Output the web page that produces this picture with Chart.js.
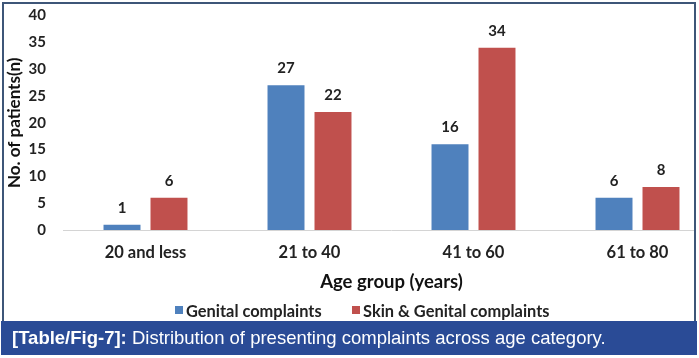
<!DOCTYPE html>
<html><head><meta charset="utf-8">
<script src="https://cdn.jsdelivr.net/npm/chart.js@4.4.0/dist/chart.umd.min.js"></script>
<style>
html,body{margin:0;padding:0;background:#fff;}
body{width:699px;height:358px;position:relative;overflow:hidden;font-family:Lato,sans-serif;}
#clip{position:absolute;left:0;top:0;width:694px;height:321px;overflow:hidden;}
#wrap{position:absolute;left:0;top:0;width:728px;height:300px;}
.frame{position:absolute;background:#3e5678;}
#legend{position:absolute;left:0;top:301px;width:699px;height:18px;}
.item{position:absolute;top:0;height:18px;display:flex;align-items:center;font:bold 16.4px Lato,sans-serif;color:#222;white-space:nowrap;}
.box{width:8px;height:8px;margin-right:3px;}
#caption{position:absolute;left:1px;top:321px;width:696px;height:34px;background:#2a4b96;color:#fff;font:18.5px "Liberation Sans",Arial,sans-serif;line-height:34px;padding-left:11px;box-sizing:border-box;white-space:nowrap;}
#caption b{font-weight:bold;}
</style></head>
<body>
<div id="clip"><div id="wrap"><canvas id="c" width="728" height="300" style="width:728px;height:300px;display:block"></canvas></div></div>
<div class="frame" style="left:2px;top:2px;width:694px;height:2px;"></div>
<div class="frame" style="left:2px;top:2px;width:2px;height:320px;"></div>
<div class="frame" style="left:694px;top:2px;width:2px;height:320px;"></div>
<div id="legend"></div>
<div id="caption"><b>[Table/Fig-7]:</b> Distribution of presenting complaints across age category.</div>
<script>
const categories = ['20 and less', '21 to 40', '41 to 60', '61 to 80'];
const genitalComplaints = [1, 27, 16, 6];
const skinGenitalComplaints = [6, 22, 34, 8];
const seriesNames = ['Genital complaints', 'Skin & Genital complaints'];
const seriesColors = ['#4F81BD', '#C0504D'];
const yMin = 0, yMax = 40, yStep = 5;

const valueLabels = {
  id: 'valueLabels',
  afterDatasetsDraw(chart) {
    const ctx = chart.ctx;
    ctx.save();
    ctx.font = 'bold 15px Lato, sans-serif';
    ctx.fillStyle = '#222';
    ctx.textAlign = 'center';
    ctx.textBaseline = 'alphabetic';
    chart.data.datasets.forEach((ds, i) => {
      chart.getDatasetMeta(i).data.forEach((bar, j) => {
        ctx.fillText(String(ds.data[j]), bar.x, bar.y - 12);
      });
    });
    ctx.restore();
  }
};

const chart = new Chart(document.getElementById('c'), {
  type: 'bar',
  data: {
    labels: categories,
    datasets: [
      { label: seriesNames[0], data: genitalComplaints, backgroundColor: seriesColors[0], categoryPercentage: 0.573, barPercentage: 0.787 },
      { label: seriesNames[1], data: skinGenitalComplaints, backgroundColor: seriesColors[1], categoryPercentage: 0.573, barPercentage: 0.787 }
    ]
  },
  options: {
    responsive: false,
    animation: false,
    devicePixelRatio: 1,
    layout: { padding: { top: 15.6, right: 8.5, bottom: 7, left: 0 } },
    plugins: { legend: { display: false }, tooltip: { enabled: false } },
    scales: {
      x: {
        grid: { display: false, drawTicks: false },
        border: { display: true, color: '#d4d4d4', width: 1 },
        ticks: { font: { family: 'Lato', size: 16.5, weight: 'bold' }, color: '#222', padding: 13, maxRotation: 0 },
        title: { display: true, text: 'Age group (years)', font: { family: 'Lato', size: 18.5, weight: 'bold' }, color: '#111', padding: { top: 8, bottom: 0 } },
        afterFit(s) { s.height = 63; }
      },
      y: {
        min: yMin, max: yMax,
        grid: { display: false, drawTicks: false },
        border: { display: false },
        ticks: { stepSize: yStep, font: { family: 'Lato', size: 15, weight: 'bold' }, color: '#222', padding: 17.5 },
        title: { display: true, text: 'No. of patients(n)', font: { family: 'Lato', size: 17, weight: 'bold' }, color: '#111', padding: { top: 4.8, bottom: 0 } },
        afterFit(s) { s.width = 63.5; s.paddingTop = 0; s.paddingBottom = 0; }
      }
    }
  },
  plugins: [valueLabels]
});

const legendEl = document.getElementById('legend');
const legendLefts = [175, 352];
chart.data.datasets.forEach((ds, i) => {
  const item = document.createElement('div');
  item.className = 'item';
  item.style.left = legendLefts[i] + 'px';
  const box = document.createElement('span');
  box.className = 'box';
  box.style.background = ds.backgroundColor;
  item.appendChild(box);
  item.appendChild(document.createTextNode(ds.label));
  legendEl.appendChild(item);
});
</script>
</body></html>
